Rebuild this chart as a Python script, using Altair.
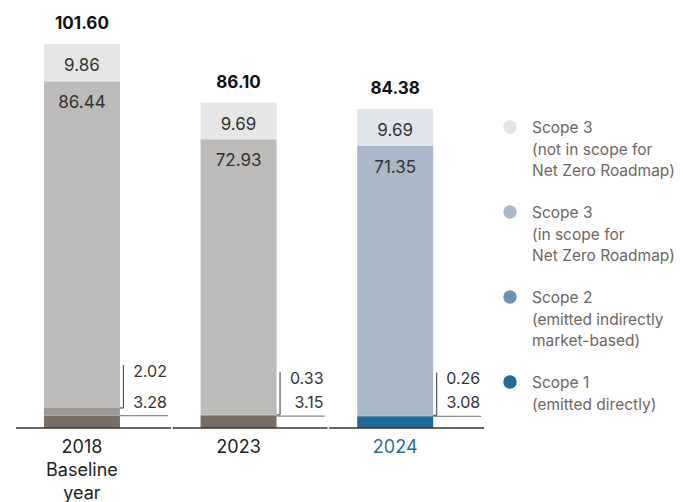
import altair as alt
import pandas as pd

# ---------------- data ----------------
years = ["2018", "2023", "2024"]
year_notes = ["Baseline\nyear", "", ""]
scope1 = [3.28, 3.15, 3.08]
scope2 = [2.02, 0.33, 0.26]
scope3_in = [86.44, 72.93, 71.35]
scope3_out = [9.86, 9.69, 9.69]
totals = [101.60, 86.10, 84.38]

categories = ["s3out", "s3in", "s2", "s1"]
legend_labels = [
    "Scope 3\n(not in scope for\nNet Zero Roadmap)",
    "Scope 3\n(in scope for\nNet Zero Roadmap)",
    "Scope 2\n(emitted indirectly\nmarket-based)",
    "Scope 1\n(emitted directly)",
]
grey_palette = {"s3out": "#e5e6e5", "s3in": "#bcbbb9", "s2": "#9d9893", "s1": "#7a6e64"}
blue_palette = {"s3out": "#e0e5eb", "s3in": "#a9b8c8", "s2": "#6f8fab", "s1": "#1e6a98"}
year_palette = {"2018": grey_palette, "2023": grey_palette, "2024": blue_palette}
year_label_colors = {"2018": "#222222", "2023": "#222222", "2024": "#2a6e9c"}

FONT = "Inter"

# ---------------- tables ----------------
seg_rows = []
for i, yr in enumerate(years):
    vals = {"s1": scope1[i], "s2": scope2[i], "s3in": scope3_in[i], "s3out": scope3_out[i]}
    acc = 0.0
    for cat in ["s1", "s2", "s3in", "s3out"]:
        seg_rows.append({"pos": i, "year": yr, "cat": cat, "y0": acc,
                         "y1": acc + vals[cat], "key": yr + "_" + cat})
        acc += vals[cat]
seg = pd.DataFrame(seg_rows)
color_domain = [yr + "_" + c for yr in years for c in categories]
color_range = [year_palette[yr][c] for yr in years for c in categories]

lab = pd.DataFrame({
    "pos": list(range(len(years))),
    "year": years,
    "xlabel": [y + ("\n" + n if n else "") for y, n in zip(years, year_notes)],
    "total": totals,
    "total_txt": [f"{t:.2f}" for t in totals],
    "s1": scope1,
    "s1_txt": [f"{v:.2f}" for v in scope1],
    "s12": [a + b for a, b in zip(scope1, scope2)],
    "s2_txt": [f"{v:.2f}" for v in scope2],
    "s3in_top": [a + b + c for a, b, c in zip(scope1, scope2, scope3_in)],
    "s3in_txt": [f"{v:.2f}" for v in scope3_in],
    "s3out_txt": [f"{v:.2f}" for v in scope3_out],
    "zero": [0.0] * len(years),
})

# ---------------- scales ----------------
W, H = 667, 420
xscale = alt.Scale(domain=[-70 / 159, (W - 70) / 159], nice=False, zero=False)
yscale = alt.Scale(domain=[0, 111.125], nice=False, zero=False)
X = alt.X("pos:Q", scale=xscale, axis=None)

base = alt.Chart(lab)

bars = alt.Chart(seg).mark_bar(size=76).encode(
    x=X,
    y=alt.Y("y0:Q", scale=yscale, axis=None),
    y2="y1:Q",
    color=alt.Color("key:N", scale=alt.Scale(domain=color_domain, range=color_range), legend=None),
)

axis_segments = base.mark_rule(color="#333333", strokeWidth=1.5, xOffset=-66, x2Offset=89).encode(
    x=X, x2="pos:Q", y=alt.Y("zero:Q", scale=yscale, axis=None)
)
leader = base.mark_rule(color="#8a8a8a", strokeWidth=1.2, xOffset=38, x2Offset=86).encode(
    x=X, x2="pos:Q", y=alt.Y("s1:Q", scale=yscale, axis=None)
)
bracket_v = base.mark_rule(color="#555555", strokeWidth=1.2, xOffset=41.5, y2Offset=-43).encode(
    x=X, y=alt.Y("s12:Q", scale=yscale, axis=None), y2="s12:Q"
)
bracket_h = base.mark_rule(color="#555555", strokeWidth=1.2, xOffset=38, x2Offset=41.5).encode(
    x=X, x2="pos:Q", y=alt.Y("s12:Q", scale=yscale, axis=None)
)

small_s2 = base.mark_text(font=FONT, fontSize=16, color="#333333", align="right",
                          baseline="middle", dx=85, dy=-36).encode(
    x=X, y=alt.Y("s12:Q", scale=yscale, axis=None), text="s2_txt:N")
small_s1 = base.mark_text(font=FONT, fontSize=16, color="#333333", align="right",
                          baseline="middle", dx=85, dy=-13).encode(
    x=X, y=alt.Y("s1:Q", scale=yscale, axis=None), text="s1_txt:N")

in_out = base.mark_text(font=FONT, fontSize=17, color="#333333", baseline="middle", dy=22).encode(
    x=X, y=alt.Y("total:Q", scale=yscale, axis=None), text="s3out_txt:N")
in_in = base.mark_text(font=FONT, fontSize=17, color="#333333", baseline="middle", dy=22).encode(
    x=X, y=alt.Y("s3in_top:Q", scale=yscale, axis=None), text="s3in_txt:N")
tot = base.mark_text(font=FONT, fontSize=17, fontWeight="bold", color="#111111",
                     baseline="middle", dy=-20).encode(
    x=X, y=alt.Y("total:Q", scale=yscale, axis=None), text="total_txt:N")

xlabels = base.mark_text(font=FONT, fontSize=18, baseline="alphabetic", dy=25,
                         lineBreak="\n", lineHeight=23).encode(
    x=X,
    y=alt.Y("zero:Q", scale=yscale, axis=None),
    text="xlabel:N",
    color=alt.Color("year:N", scale=alt.Scale(domain=years,
                    range=[year_label_colors[y] for y in years]), legend=None),
)

# ---------------- legend ----------------
legend_layers = []
legend_tops = [119, 204, 289, 374]
for lbl, cat, ly in zip(legend_labels, categories, legend_tops):
    d = pd.DataFrame({"label": [lbl]})
    legend_layers.append(
        alt.Chart(d).mark_circle(size=180, opacity=1, color=blue_palette[cat]).encode(
            x=alt.value(502), y=alt.value(ly))
    )
    legend_layers.append(
        alt.Chart(d).mark_text(font=FONT, fontSize=15.5, color="#6e6660", align="left",
                               baseline="alphabetic", lineBreak="\n", lineHeight=21.5).encode(
            x=alt.value(524), y=alt.value(ly + 6), text="label:N")
    )

chart = alt.layer(
    bars, axis_segments, leader, bracket_h, bracket_v, small_s2, small_s1,
    in_out, in_in, tot, xlabels, *legend_layers
).resolve_scale(color="independent").properties(
    width=W, height=H,
    padding={"left": 0, "top": 0, "right": 0, "bottom": 80},
    autosize=alt.AutoSizeParams(type="none"),
).configure_view(stroke=None)

chart.save("out.html", embed_options={"renderer": "svg", "actions": False})
